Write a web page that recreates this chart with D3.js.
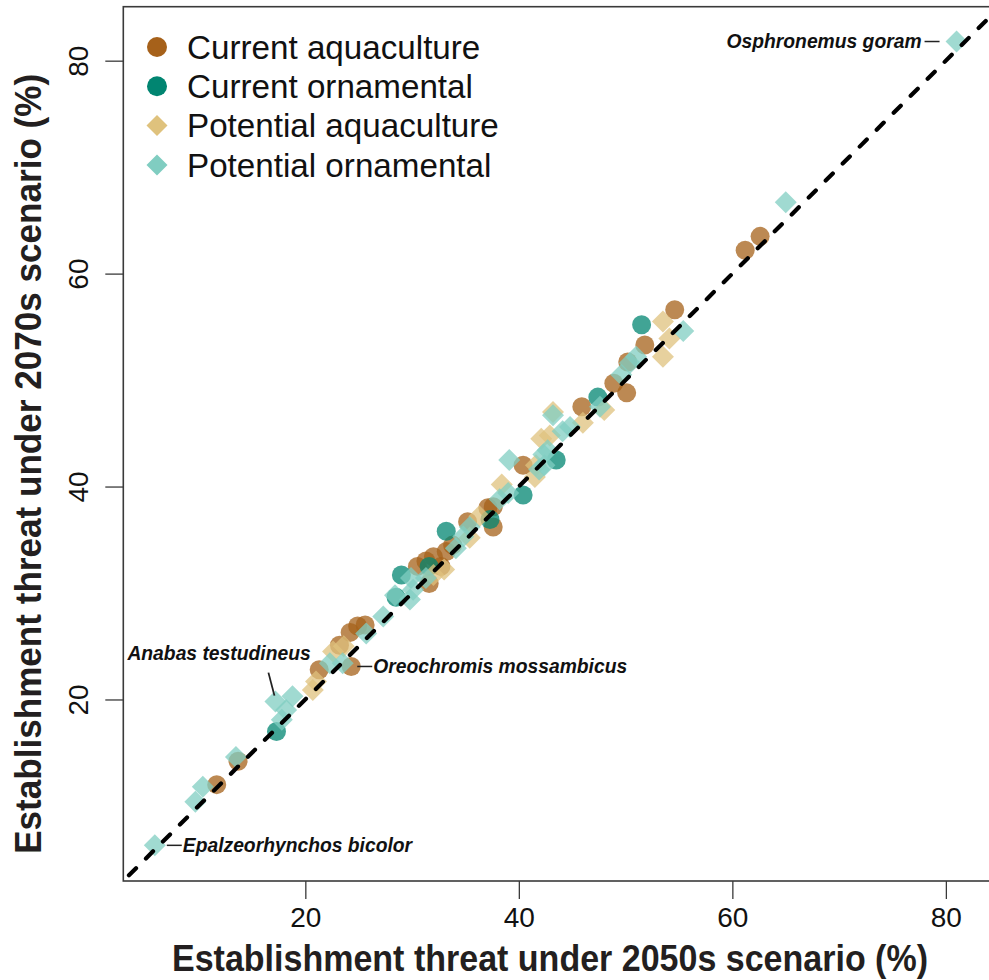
<!DOCTYPE html>
<html>
<head>
<meta charset="utf-8">
<script src="https://cdn.jsdelivr.net/npm/d3@7/dist/d3.min.js"></script>
<style>
  html, body { margin: 0; padding: 0; background: #fff; }
  svg { display: block; font-family: "Liberation Sans", Arial, sans-serif; }
</style>
</head>
<body>
<svg id="chart" width="989" height="980"></svg>
<script>
// ---- data (x = 2050s %, y = 2070s %) ----
const currentAquaculture = [
  [11.7, 12.0], [13.7, 14.2], [21.3, 22.8], [23.2, 25.1], [24.3, 23.1],
  [24.2, 26.3], [24.9, 26.9], [25.6, 27.0], [30.5, 32.5], [31.3, 33.0],
  [31.6, 30.9], [32.0, 33.4], [32.7, 32.5], [33.2, 33.9], [33.8, 34.5],
  [35.2, 36.7], [37.1, 38.0], [37.6, 36.2], [37.6, 38.1], [40.4, 42.0],
  [45.9, 47.5], [48.9, 49.7], [50.1, 48.8], [50.2, 51.7], [51.8, 53.3],
  [54.6, 56.6], [61.2, 62.2], [62.6, 63.5]
];
const currentOrnamental = [
  [17.3, 17.0], [28.5, 29.6], [29.0, 31.7], [31.6, 32.5], [33.2, 35.8],
  [37.3, 36.9], [40.4, 39.2], [43.5, 42.5], [47.4, 48.4], [51.5, 55.2]
];
const potentialAquaculture = [
  [20.7, 20.9], [21.0, 21.7], [22.6, 24.5], [23.6, 25.0], [32.0, 31.7],
  [33.0, 32.2], [35.4, 35.2], [36.3, 37.2], [38.4, 40.2], [41.5, 40.9],
  [41.6, 42.0], [42.1, 44.5], [42.9, 44.8], [43.2, 47.0], [46.0, 46.0],
  [48.0, 47.2], [53.5, 55.5], [54.1, 53.9], [53.5, 52.2]
];
const potentialOrnamental = [
  [5.9, 6.3], [9.7, 10.4], [10.4, 11.8], [13.5, 14.6], [17.2, 19.8],
  [17.8, 18.1], [18.2, 19.0], [18.8, 20.3], [22.3, 23.4], [23.5, 23.4],
  [25.7, 26.2], [27.3, 27.8], [28.4, 29.8], [29.8, 29.4], [29.9, 31.4],
  [30.1, 30.3], [31.3, 31.4], [34.1, 34.2], [34.8, 35.3], [35.4, 36.2],
  [38.2, 38.8], [39.0, 39.4], [39.1, 42.5], [41.9, 41.6], [42.4, 42.0],
  [42.3, 43.0], [42.7, 43.4], [43.2, 46.7], [44.1, 45.2], [44.8, 45.6],
  [47.6, 47.5], [49.6, 50.5], [50.4, 51.6], [51.0, 52.2], [55.4, 54.6],
  [65.0, 66.7], [81.0, 81.8]
];
const seriesNames = ["Current aquaculture", "Current ornamental", "Potential aquaculture", "Potential ornamental"];
const seriesColors = ["#A6611A", "#018571", "#DFC27D", "#80CDC1"];
const seriesShapes = ["circle", "circle", "diamond", "diamond"];
const tickValues = [20, 40, 60, 80];
const axisDomain = [2.95, 85.07];
const labels = [
  { name: "Osphronemus goram", at: [81.0, 81.8], side: "left" },
  { name: "Anabas testudineus", at: [17.2, 19.8], side: "above" },
  { name: "Oreochromis mossambicus", at: [24.3, 23.1], side: "right" },
  { name: "Epalzeorhynchos bicolor", at: [5.9, 6.3], side: "right" }
];
const xTitle = "Establishment threat under 2050s scenario (%)";
const yTitle = "Establishment threat under 2070s scenario (%)";

// ---- layout ----
const svg = d3.select("#chart");
const L = 123.3, R = 1000, T = 6.7, B = 881;
const x = d3.scaleLinear().domain(axisDomain).range([L, R]);
const y = d3.scaleLinear().domain(axisDomain).range([B, T]);
const ink = "#3a3a3a";

// points
const allSeries = [currentAquaculture, currentOrnamental, potentialAquaculture, potentialOrnamental];
const diamond = h => `M0,${-h}L${h},0L0,${h}L${-h},0Z`;
allSeries.forEach((data, i) => {
  const g = svg.append("g").attr("fill", seriesColors[i]).attr("fill-opacity", 0.75);
  if (seriesShapes[i] === "circle") {
    g.selectAll("circle").data(data).join("circle")
      .attr("cx", d => x(d[0])).attr("cy", d => y(d[1])).attr("r", 9.5);
  } else {
    g.selectAll("path").data(data).join("path")
      .attr("d", diamond(11))
      .attr("transform", d => `translate(${x(d[0])},${y(d[1])})`);
  }
});

// 1:1 dashed line
svg.append("line")
  .attr("x1", x(axisDomain[0])).attr("y1", y(axisDomain[0]))
  .attr("x2", x(axisDomain[1])).attr("y2", y(axisDomain[1]))
  .attr("stroke", "#000").attr("stroke-width", 4.2)
  .attr("stroke-dasharray", "10,14").attr("stroke-dashoffset", -8).attr("stroke-linecap", "round");

// frame
svg.append("rect").attr("x", L).attr("y", T).attr("width", R - L).attr("height", B - T)
  .attr("fill", "none").attr("stroke", ink).attr("stroke-width", 1.6);

// axes
const xAxis = d3.axisBottom(x).tickValues(tickValues).tickSize(18).tickPadding(8).tickSizeOuter(0);
const gx = svg.append("g").attr("transform", `translate(0,${B})`).call(xAxis);
gx.select(".domain").remove();
gx.selectAll(".tick line").attr("stroke", ink).attr("stroke-width", 1.3);
gx.selectAll(".tick text").attr("font-size", 28).attr("fill", "#111")
  .attr("font-family", "Liberation Sans, Arial, sans-serif").attr("dy", "0.72em");

const yAxis = d3.axisLeft(y).tickValues(tickValues).tickSize(18).tickSizeOuter(0);
const gy = svg.append("g").attr("transform", `translate(${L},0)`).call(yAxis);
gy.select(".domain").remove();
gy.selectAll(".tick line").attr("stroke", ink).attr("stroke-width", 1.3);
gy.selectAll(".tick text")
  .attr("font-size", 28).attr("fill", "#111")
  .attr("font-family", "Liberation Sans, Arial, sans-serif")
  .attr("text-anchor", "middle").attr("x", null).attr("dy", null)
  .attr("transform", "translate(-35,0) rotate(-90)");

// axis titles
svg.append("text").attr("x", 550).attr("y", 971)
  .attr("text-anchor", "middle").attr("font-weight", "bold").attr("font-size", 36)
  .attr("fill", "#231f20")
  .attr("textLength", 756).attr("lengthAdjust", "spacingAndGlyphs")
  .text(xTitle);
svg.append("text").attr("transform", `translate(41,${(T + B) / 2 + 20}) rotate(-90)`)
  .attr("text-anchor", "middle").attr("font-weight", "bold").attr("font-size", 36)
  .attr("fill", "#231f20")
  .attr("textLength", 780).attr("lengthAdjust", "spacingAndGlyphs")
  .text(yTitle);

// legend
const leg = svg.append("g");
seriesNames.forEach((name, i) => {
  const cy = 47 + i * 39.3;
  if (seriesShapes[i] === "circle") {
    leg.append("circle").attr("cx", 157).attr("cy", cy).attr("r", 10).attr("fill", seriesColors[i]);
  } else {
    leg.append("path").attr("d", diamond(10.5)).attr("transform", `translate(157,${cy})`).attr("fill", seriesColors[i]);
  }
  leg.append("text").attr("x", 187).attr("y", cy + 11.7).attr("font-size", 33.2).attr("fill", "#111").text(name);
});

// annotations
const ann = svg.append("g").attr("font-weight", "bold").attr("font-style", "italic")
  .attr("font-size", 19.3).attr("fill", "#111");
labels.forEach(lb => {
  const px = x(lb.at[0]), py = y(lb.at[1]);
  if (lb.side === "left") {
    ann.append("line").attr("x1", px - 32).attr("x2", px - 17).attr("y1", py).attr("y2", py)
      .attr("stroke", "#222").attr("stroke-width", 1.5);
    ann.append("text").attr("x", px - 35).attr("y", py + 6.8).attr("text-anchor", "end").text(lb.name);
  } else if (lb.side === "right") {
    const off = lb.name.startsWith("Oreo") ? 6 : 12;
    ann.append("line").attr("x1", px + off).attr("x2", px + off + 15).attr("y1", py).attr("y2", py)
      .attr("stroke", "#222").attr("stroke-width", 1.5);
    ann.append("text").attr("x", px + off + 16).attr("y", py + 6.8).text(lb.name);
  } else {
    ann.append("line").attr("x1", px - 7).attr("x2", px - 1).attr("y1", py - 29).attr("y2", py - 6)
      .attr("stroke", "#222").attr("stroke-width", 1.8);
    ann.append("text").attr("x", px - 148).attr("y", py - 42).text(lb.name);
  }
});
</script>
</body>
</html>
